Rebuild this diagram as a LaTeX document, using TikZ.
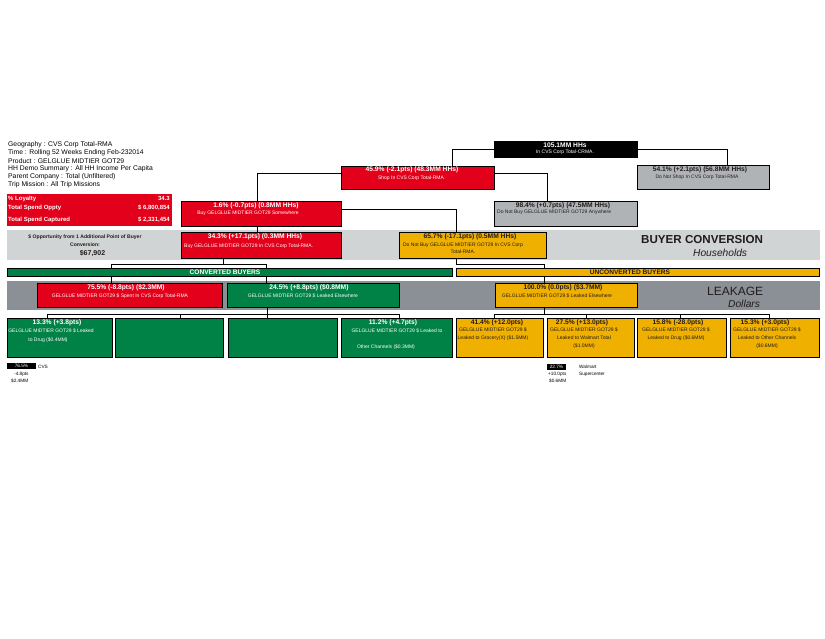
\documentclass[tikz,border=0pt]{standalone}
\usepackage{fontspec}
\setmainfont{Liberation Sans}
\usetikzlibrary{fit,calc}
\definecolor{cred}{RGB}{226,0,26}
\definecolor{cgreen}{RGB}{0,130,70}
\definecolor{corange}{RGB}{240,176,0}
\definecolor{cgrey}{RGB}{176,179,182}
\definecolor{cbandA}{RGB}{208,212,212}
\definecolor{cbandB}{RGB}{138,144,150}
\definecolor{cdark}{RGB}{35,28,28}
\begin{document}
\begin{tikzpicture}[x=1pt,y=-1pt,
  box/.style={draw=black,line width=0.8pt,inner sep=0pt,outer sep=0pt},
  redbox/.style={box,fill=cred},
  greenbox/.style={box,fill=cgreen},
  orangebox/.style={box,fill=corange},
  greybox/.style={box,fill=cgrey},
  blackbox/.style={box,fill=black},
  band/.style={draw=none,inner sep=0pt,outer sep=0pt},
  conn/.style={draw=black,line width=0.8pt},
  hdr/.style={inner sep=0pt,font=\fontsize{6.7}{7}\selectfont\bfseries},
  sub/.style={inner sep=0pt,align=center,font=\fontsize{5}{8}\selectfont},
  info/.style={inner sep=0pt,anchor=west,font=\fontsize{6.8}{7}\selectfont},
  loy/.style={inner sep=0pt,text=white,font=\fontsize{6}{6}\selectfont\bfseries},
  barlbl/.style={inner sep=0pt,font=\fontsize{6.6}{7}\selectfont\bfseries},
  tinytxt/.style={inner sep=0pt,font=\fontsize{4.7}{5}\selectfont},
  bigtitle/.style={inner sep=0pt,anchor=west,text=cdark,font=\fontsize{12}{13}\selectfont},
  subtitle/.style={inner sep=0pt,anchor=west,text=cdark,font=\fontsize{10.2}{11}\selectfont\itshape}
]
\useasboundingbox[fill=white] (0,0) rectangle (825,638);

% ---------- info text ----------
\node[info] (i1) at (8,145) {Geography : CVS Corp Total-RMA};
\node[info] (i2) at (8,153) {Time : Rolling 52 Weeks Ending Feb-232014};
\node[info] (i3) at (8,161) {Product : GELGLUE MIDTIER GOT29};
\node[info] (i4) at (8,169) {HH Demo Summary : All HH Income Per Capita};
\node[info] (i5) at (8,177) {Parent Company : Total (Unfiltered)};
\node[info] (i6) at (8,185) {Trip Mission : All Trip Missions};

% ---------- loyalty box ----------
\node[band,fill=cred,fit={(7,194) (172,226)}] (loyal) {};
\node[loy,anchor=west] (l1) at (8,198.5) {\% Loyalty};
\node[loy,anchor=east] (l2) at (170,198.5) {34.3};
\node[loy,anchor=west] (l3) at (8,207.5) {Total Spend Oppty};
\node[loy,anchor=east] (l4) at (170,207.5) {\$ 6,800,854};
\node[loy,anchor=west] (l5) at (8,220) {Total Spend Captured};
\node[loy,anchor=east] (l6) at (170,220) {\$ 2,331,454};

% ---------- bands ----------
\node[band,fill=cbandA,fit={(7,230) (820,260)}] (bcband) {};
\node[band,fill=cbandB,fit={(7,281) (820,310)}] (lkband) {};
\node[sub,text=cdark,font=\fontsize{5.1}{8}\selectfont\bfseries] (op1) at (85,240.5) {\$ Opportunity from 1 Additional Point of Buyer\\Conversion:};
\node[inner sep=0pt,text=cdark,font=\fontsize{7}{7}\selectfont\bfseries] (op2) at (92.5,253) {\$67,902};
\node[bigtitle,font=\fontsize{11.6}{13}\selectfont\bfseries] (bct) at (641,240) {BUYER CONVERSION};
\node[subtitle] (bch) at (693,252.5) {Households};
\node[bigtitle] (lkt) at (707,291) {LEAKAGE};
\node[subtitle] (lkd) at (728,304) {Dollars};

% ---------- tree boxes ----------
\node[blackbox,fit={(494,141) (637,157)}] (top) {};
\node[redbox,fit={(341,166) (494,189)}] (r459) {};
\node[greybox,fit={(637,165) (769,189)}] (g541) {};
\node[redbox,fit={(181,201) (341,226)}] (r16) {};
\node[greybox,fit={(494,201) (637,226)}] (g984) {};
\node[redbox,fit={(181,232) (341,258)}] (r343) {};
\node[orangebox,fit={(399,232) (546,258)}] (o657) {};
\node[greenbox,fit={(7,268) (452,276)}] (conv) {};
\node[orangebox,fit={(456,268) (819,276)}] (uconv) {};
\node[redbox,fit={(37,283) (222,307)}] (r755) {};
\node[greenbox,fit={(227,283) (399,307)}] (g245) {};
\node[orangebox,fit={(495,283) (637,307)}] (o100) {};
\node[greenbox,fit={(7,318) (112,357)}] (gb1) {};
\node[greenbox,fit={(115,318) (223,357)}] (gb2) {};
\node[greenbox,fit={(228,318) (337,357)}] (gb3) {};
\node[greenbox,fit={(341,318) (452,357)}] (gb4) {};
\node[orangebox,fit={(456,318) (543,357)}] (ob1) {};
\node[orangebox,fit={(547,318) (634,357)}] (ob2) {};
\node[orangebox,fit={(637,318) (726,357)}] (ob3) {};
\node[orangebox,fit={(730,318) (819,357)}] (ob4) {};

% ---------- connectors ----------
\draw[conn] (top.west) -| ($(r459.north west)+(111,0)$);
\draw[conn] (top.east) -| ($(g541.north west)+(90,0)$);
\draw[conn] ($(r459.north west)+(0,7)$) -| ($(r16.north west)+(76,0)$);
\draw[conn] ($(r459.north east)+(0,7)$) -| ($(g984.north west)+(53,0)$);
\draw[conn] ($(r16.north east)+(0,8)$) -| ($(o657.north west)+(57,0)$);
\draw[conn] ($(r16.south west)+(76,0)$) -- ($(r343.north west)+(76,0)$);
\draw[conn] ($(r343.south west)+(42,0)$) |- ($(conv.north west)+(259,-4)$) -- ($(conv.north west)+(259,0)$);
\draw[conn] ($(conv.north west)+(104,0)$) -- ++(0,-4) -- ($(conv.north west)+(259,-4)$);
\draw[conn] ($(conv.south west)+(104,0)$) -- ($(r755.north west)+(74,0)$);
\draw[conn] ($(conv.south west)+(259,0)$) -- ($(g245.north west)+(39,0)$);
\draw[conn] ($(o657.south west)+(57,0)$) |- ($(uconv.north west)+(88,-4)$) -- ($(uconv.north west)+(88,0)$);
\draw[conn] ($(uconv.south west)+(88,0)$) -- ($(o100.north west)+(49,0)$);
\draw[conn] ($(g245.south west)+(40,0)$) -- ($(gb3.north west)+(39,-4)$);
\draw[conn] ($(gb1.north west)+(40,0)$) -- ++(0,-4) -| ($(gb4.north west)+(58,0)$);
\draw[conn] ($(gb2.north west)+(65,0)$) -- ++(0,-4);
\draw[conn] ($(gb3.north west)+(39,0)$) -- ++(0,-4);
\draw[conn] ($(o100.south west)+(49,0)$) -- ++(0,7);
\draw[conn] ($(ob1.north west)+(38,0)$) -- ++(0,-4) -| ($(ob4.north west)+(39,0)$);
\draw[conn] ($(ob2.north west)+(39,0)$) -- ++(0,-4);
\draw[conn] ($(ob3.north west)+(43,0)$) -- ++(0,-4);

% ---------- box texts ----------
\node[hdr,text=white] (t1) at (565,145.5) {105.1MM HHs};
\node[sub,text=white] (t2) at (565,152.5) {In CVS Corp Total-CRMA.};
\node[hdr,text=white] (t3) at (412,170) {45.9\% (-2.1pts) (48.3MM HHs)};
\node[sub,text=white] (t4) at (411,178.5) {Shop In CVS Corp Total-RMA};
\node[hdr,text=cdark] (t5) at (700,169.5) {54.1\% (+2.1pts) (56.8MM HHs)};
\node[sub,text=cdark] (t6) at (697,177.5) {Do Not Shop In CVS Corp Total-RMA};
\node[hdr,text=white] (t7) at (256,205.5) {1.6\% (-0.7pts) (0.8MM HHs)};
\node[sub,text=white] (t8) at (248,213.5) {Buy GELGLUE MIDTIER GOT29 Somewhere};
\node[hdr,text=cdark] (t9) at (563,205.5) {98.4\% (+0.7pts) (47.5MM HHs)};
\node[sub,text=cdark,anchor=west] (t10) at (497,212.5) {Do Not Buy GELGLUE MIDTIER GOT29 Anywhere};
\node[hdr,text=white] (t11) at (255,237) {34.3\% (+17.1pts) (0.3MM HHs)};
\node[sub,text=white,anchor=west] (t12) at (184,246) {Buy GELGLUE MIDTIER GOT29 In CVS Corp Total-RMA.};
\node[hdr,text=cdark] (t13) at (470,236.5) {65.7\% (-17.1pts) (0.5MM HHs)};
\node[sub,text=cdark,font=\fontsize{5}{6.5}\selectfont] (t14) at (463,248.5) {Do Not Buy GELGLUE MIDTIER GOT29 In CVS Corp\\Total-RMA.};
\node[barlbl,text=white] (t15) at (225,272.5) {CONVERTED BUYERS};
\node[barlbl,text=cdark] (t16) at (630,272.5) {UNCONVERTED BUYERS};
\node[hdr,text=white] (t17) at (126,287.5) {75.5\% (-8.8pts) (\$2.3MM)};
\node[sub,text=white] (t18) at (120,296) {GELGLUE MIDTIER GOT29 \$ Spent In CVS Corp Total-RMA};
\node[hdr,text=white] (t19) at (309,287.5) {24.5\% (+8.8pts) (\$0.8MM)};
\node[sub,text=white] (t20) at (303,296) {GELGLUE MIDTIER GOT29 \$ Leaked Elsewhere};
\node[hdr,text=cdark] (t21) at (563,287.5) {100.0\% (0.0pts) (\$3.7MM)};
\node[sub,text=cdark] (t22) at (557,295.5) {GELGLUE MIDTIER GOT29 \$ Leaked Elsewhere};

\node[hdr,text=white] (t23) at (57,322.5) {13.3\% (+3.8pts)};
\node[sub,text=white] (t24) at (51,330.5) {GELGLUE MIDTIER GOT29 \$ Leaked};
\node[sub,text=white] (t25) at (48,340) {to Drug (\$0.4MM)};
\node[hdr,text=white] (t26) at (393,322.5) {11.2\% (+4.7pts)};
\node[sub,text=white] (t27) at (397,330.5) {GELGLUE MIDTIER GOT29 \$ Leaked to};
\node[sub,text=white] (t28) at (386,347) {Other Channels (\$0.3MM)};

\node[hdr,text=cdark] (t29) at (497,322.5) {41.4\% (+12.0pts)};
\node[sub,text=cdark] (t30) at (493,334.5) {GELGLUE MIDTIER GOT29 \$\\Leaked to Grocery(X) (\$1.5MM)};
\node[hdr,text=cdark] (t31) at (582,322.5) {27.5\% (+13.0pts)};
\node[sub,text=cdark] (t32) at (584,338.5) {GELGLUE MIDTIER GOT29 \$\\Leaked to Walmart Total\\(\$1.0MM)};
\node[hdr,text=cdark] (t33) at (678,322.5) {15.8\% (-28.0pts)};
\node[sub,text=cdark] (t34) at (676,334.5) {GELGLUE MIDTIER GOT29 \$\\Leaked to Drug (\$0.6MM)};
\node[hdr,text=cdark] (t35) at (765,322.5) {15.3\% (+3.0pts)};
\node[sub,text=cdark] (t36) at (767,338.5) {GELGLUE MIDTIER GOT29 \$\\Leaked to Other Channels\\(\$0.6MM)};

% ---------- small legends ----------
\node[band,fill=black,fit={(7,363) (36,369)}] (cvsb) {};
\node[tinytxt,text=white] (c1) at (21.5,366) {76.5\%};
\node[tinytxt,anchor=west] (c2) at (38,366.5) {CVS};
\node[tinytxt,anchor=west] (c3) at (14,374) {-4.8pts};
\node[tinytxt,anchor=west] (c4) at (11,380.5) {\$2.4MM};
\node[band,fill=black,fit={(547,364) (566,370)}] (wmb) {};
\node[tinytxt,text=white] (w1) at (556.5,367) {22.7\%};
\node[tinytxt,anchor=west] (w2) at (579,367) {Walmart};
\node[tinytxt,anchor=west] (w3) at (579,374) {Supercenter};
\node[tinytxt,anchor=west] (w4) at (548,374) {+10.0pts};
\node[tinytxt,anchor=west] (w5) at (549,380.5) {\$0.6MM};
\end{tikzpicture}
\end{document}
